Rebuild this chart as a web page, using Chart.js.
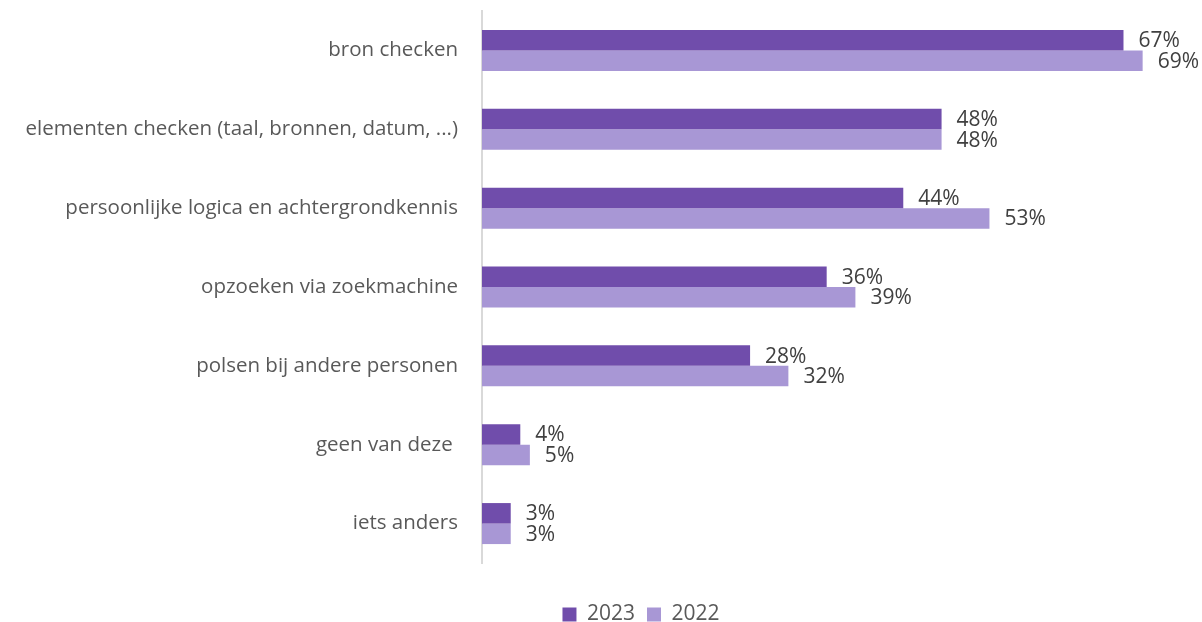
<!DOCTYPE html>
<html>
<head>
<meta charset="utf-8">
<script src="https://cdn.jsdelivr.net/npm/chart.js@4/dist/chart.umd.min.js"></script>
<style>
  html, body { margin: 0; padding: 0; background: #ffffff; }
  #wrap { width: 1202px; height: 622px; }
</style>
</head>
<body>
<div id="wrap"><canvas id="chart" width="1202" height="622"></canvas></div>
<script>
// labels and values
const categories = [
  'bron checken',
  'elementen checken (taal, bronnen, datum, ...)',
  'persoonlijke logica en achtergrondkennis',
  'opzoeken via zoekmachine',
  'polsen bij andere personen',
  'geen van deze ',
  'iets anders'
];
const values2023 = [67, 48, 44, 36, 28, 4, 3];
const values2022 = [69, 48, 53, 39, 32, 5, 3];
const seriesNames = ['2023', '2022'];

const textColor = '#595959';
const labelColor = '#404040';
const fontFamily = "'Open Sans', 'Liberation Sans', sans-serif";

// draws the value labels right of each bar
const valueLabels = {
  id: 'valueLabels',
  afterDatasetsDraw(chart) {
    const ctx = chart.ctx;
    ctx.save();
    ctx.font = '21px ' + fontFamily;
    ctx.fillStyle = labelColor;
    ctx.textAlign = 'left';
    ctx.textBaseline = 'middle';
    chart.data.datasets.forEach((ds, i) => {
      const meta = chart.getDatasetMeta(i);
      meta.data.forEach((bar, j) => {
        ctx.fillText(ds.data[j] + '%', bar.x + 15, bar.y + 1);
      });
    });
    ctx.restore();
  }
};

// legend sits a bit right of the canvas centre in the reference
const legendShift = {
  id: 'legendShift',
  afterLayout(chart) {
    chart.legend.left += 40;
    chart.legend.right += 40;
  }
};

new Chart(document.getElementById('chart'), {
  type: 'bar',
  data: {
    labels: categories,
    datasets: [{
      label: seriesNames[0],
      data: values2023,
      backgroundColor: '#704dab',
      categoryPercentage: 0.52,
      barPercentage: 1
    }, {
      label: seriesNames[1],
      data: values2022,
      backgroundColor: '#a897d5',
      categoryPercentage: 0.52,
      barPercentage: 1
    }]
  },
  options: {
    indexAxis: 'y',
    responsive: false,
    animation: false,
    layout: { padding: { top: 11, right: 0, left: 0, bottom: -13 } },
    plugins: {
      legend: {
        position: 'bottom',
        labels: {
          color: textColor,
          font: { family: fontFamily, size: 21 },
          boxWidth: 14,
          boxHeight: 14,
          padding: 12
        }
      },
      tooltip: { enabled: false }
    },
    scales: {
      x: {
        min: 0,
        max: 75.2,
        ticks: { display: false },
        grid: { display: false },
        border: { display: false },
        afterFit(scale) { scale.height = 29; }
      },
      y: {
        grid: { display: false },
        border: { color: '#d9d9d9', width: 2 },
        ticks: {
          color: textColor,
          font: { family: fontFamily, size: 20.5 },
          padding: 16
        },
        afterFit(scale) {
          scale.width = 482;
          scale.paddingTop = 0;
          scale.paddingBottom = 0;
        }
      }
    }
  },
  plugins: [valueLabels, legendShift]
});
</script>
</body>
</html>
